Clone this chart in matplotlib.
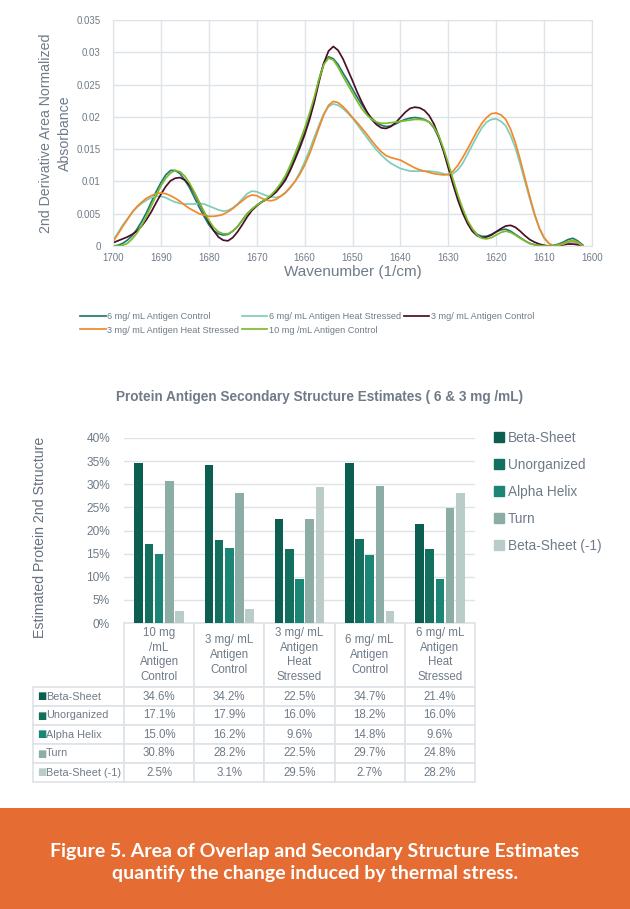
import numpy as np
import matplotlib
matplotlib.use("Agg")
import matplotlib.pyplot as plt
from matplotlib.patches import Rectangle, Patch
from matplotlib.table import Table

plt.rcParams['font.family'] = ['Liberation Sans', 'DejaVu Sans']

# ---- spectra data (2nd derivative, area normalized), 1700 -> 1602 cm-1 ----
wavenumber = np.arange(1700, 1601, -1)

ctrl_6 = [0.0000, 0.0001, 0.0004, 0.0009, 0.0016, 0.0026, 0.0038, 0.0052, 0.0068, 0.0084,
          0.0098, 0.0110, 0.0117, 0.0117, 0.0112, 0.0102, 0.0090, 0.0075, 0.0060, 0.0046,
          0.0033, 0.0024, 0.0019, 0.0017, 0.0018, 0.0023, 0.0030, 0.0040, 0.0050, 0.0057,
          0.0063, 0.0068, 0.0072, 0.0078, 0.0085, 0.0094, 0.0105, 0.0120, 0.0138, 0.0156,
          0.0176, 0.0200, 0.0226, 0.0258, 0.0283, 0.0293, 0.0290, 0.0281, 0.0268, 0.0256,
          0.0243, 0.0230, 0.0218, 0.0207, 0.0198, 0.0191, 0.0187, 0.0185, 0.0186, 0.0189,
          0.0193, 0.0196, 0.0198, 0.0199, 0.0198, 0.0196, 0.0192, 0.0183, 0.0168, 0.0148,
          0.0124, 0.0099, 0.0075, 0.0055, 0.0038, 0.0026, 0.0018, 0.0015, 0.0015, 0.0018,
          0.0022, 0.0025, 0.0026, 0.0023, 0.0018, 0.0013, 0.0008, 0.0004, 0.0002, 0.0001,
          0.0000, 0.0000, 0.0001, 0.0003, 0.0006, 0.0010, 0.0012, 0.0008, 0.0002]
hs_6 = [0.0008, 0.0020, 0.0032, 0.0042, 0.0052, 0.0060, 0.0066, 0.0071, 0.0075, 0.0077,
        0.0077, 0.0075, 0.0071, 0.0068, 0.0066, 0.0065, 0.0065, 0.0065, 0.0066, 0.0065,
        0.0062, 0.0059, 0.0056, 0.0054, 0.0055, 0.0059, 0.0065, 0.0073, 0.0081, 0.0085,
        0.0084, 0.0081, 0.0078, 0.0076, 0.0075, 0.0077, 0.0082, 0.0090, 0.0100, 0.0114,
        0.0130, 0.0148, 0.0168, 0.0187, 0.0205, 0.0216, 0.0220, 0.0218, 0.0213, 0.0206,
        0.0198, 0.0188, 0.0178, 0.0168, 0.0158, 0.0149, 0.0141, 0.0134, 0.0128, 0.0124,
        0.0120, 0.0118, 0.0116, 0.0116, 0.0116, 0.0116, 0.0116, 0.0115, 0.0114, 0.0112,
        0.0110, 0.0112, 0.0118, 0.0128, 0.0142, 0.0156, 0.0170, 0.0183, 0.0192, 0.0196,
        0.0197, 0.0193, 0.0186, 0.0171, 0.0152, 0.0127, 0.0100, 0.0073, 0.0048, 0.0027,
        0.0012, 0.0004, 0.0000, 0.0000, 0.0002, 0.0004, 0.0006, 0.0004, 0.0000]
ctrl_3 = [0.0005, 0.0008, 0.0011, 0.0014, 0.0018, 0.0023, 0.0031, 0.0041, 0.0053, 0.0067,
          0.0080, 0.0092, 0.0101, 0.0105, 0.0106, 0.0102, 0.0094, 0.0082, 0.0067, 0.0052,
          0.0037, 0.0024, 0.0014, 0.0009, 0.0008, 0.0013, 0.0022, 0.0033, 0.0045, 0.0055,
          0.0062, 0.0068, 0.0072, 0.0077, 0.0083, 0.0092, 0.0102, 0.0117, 0.0134, 0.0152,
          0.0172, 0.0195, 0.0222, 0.0254, 0.0283, 0.0302, 0.0309, 0.0303, 0.0290, 0.0273,
          0.0256, 0.0238, 0.0222, 0.0208, 0.0196, 0.0188, 0.0183, 0.0182, 0.0185, 0.0191,
          0.0199, 0.0207, 0.0213, 0.0215, 0.0214, 0.0210, 0.0202, 0.0189, 0.0170, 0.0147,
          0.0121, 0.0095, 0.0071, 0.0051, 0.0035, 0.0023, 0.0016, 0.0013, 0.0014, 0.0017,
          0.0022, 0.0027, 0.0031, 0.0032, 0.0029, 0.0023, 0.0016, 0.0010, 0.0006, 0.0003,
          0.0001, 0.0000, 0.0000, 0.0001, 0.0002, 0.0003, 0.0003, 0.0002, 0.0001]
hs_3 = [0.0007, 0.0018, 0.0030, 0.0041, 0.0052, 0.0061, 0.0068, 0.0074, 0.0078, 0.0081,
        0.0082, 0.0081, 0.0078, 0.0074, 0.0069, 0.0063, 0.0058, 0.0054, 0.0050, 0.0048,
        0.0046, 0.0046, 0.0047, 0.0049, 0.0053, 0.0058, 0.0064, 0.0070, 0.0076, 0.0079,
        0.0078, 0.0074, 0.0071, 0.0070, 0.0072, 0.0077, 0.0083, 0.0091, 0.0100, 0.0111,
        0.0125, 0.0142, 0.0162, 0.0183, 0.0203, 0.0218, 0.0224, 0.0222, 0.0216, 0.0208,
        0.0199, 0.0191, 0.0182, 0.0173, 0.0163, 0.0154, 0.0146, 0.0140, 0.0137, 0.0135,
        0.0133, 0.0129, 0.0125, 0.0121, 0.0118, 0.0116, 0.0114, 0.0112, 0.0111, 0.0110,
        0.0111, 0.0116, 0.0125, 0.0137, 0.0150, 0.0164, 0.0178, 0.0190, 0.0199, 0.0205,
        0.0206, 0.0203, 0.0196, 0.0181, 0.0160, 0.0134, 0.0105, 0.0077, 0.0050, 0.0028,
        0.0013, 0.0004, 0.0000, 0.0001, 0.0003, 0.0006, 0.0008, 0.0005, 0.0000]
ctrl_10 = [0.0000, 0.0000, 0.0001, 0.0004, 0.0011, 0.0020, 0.0032, 0.0046, 0.0062, 0.0078,
           0.0093, 0.0105, 0.0113, 0.0117, 0.0115, 0.0108, 0.0097, 0.0083, 0.0068, 0.0053,
           0.0040, 0.0029, 0.0022, 0.0019, 0.0019, 0.0023, 0.0030, 0.0040, 0.0050, 0.0057,
           0.0063, 0.0068, 0.0073, 0.0079, 0.0087, 0.0097, 0.0109, 0.0125, 0.0143, 0.0162,
           0.0182, 0.0205, 0.0230, 0.0258, 0.0281, 0.0291, 0.0288, 0.0277, 0.0263, 0.0250,
           0.0237, 0.0224, 0.0212, 0.0203, 0.0196, 0.0192, 0.0190, 0.0190, 0.0191, 0.0192,
           0.0193, 0.0194, 0.0195, 0.0196, 0.0196, 0.0195, 0.0192, 0.0184, 0.0171, 0.0151,
           0.0128, 0.0103, 0.0079, 0.0058, 0.0040, 0.0027, 0.0017, 0.0012, 0.0011, 0.0013,
           0.0017, 0.0021, 0.0023, 0.0021, 0.0017, 0.0012, 0.0008, 0.0004, 0.0002, 0.0001,
           0.0000, 0.0000, 0.0000, 0.0002, 0.0004, 0.0007, 0.0009, 0.0006, 0.0001]

series_names = ["6 mg/ mL Antigen Control", "6 mg/ mL Antigen Heat Stressed",
                "3 mg/ mL Antigen Control", "3 mg/ mL Antigen Heat Stressed",
                "10 mg /mL Antigen Control"]
series_colors = ["#1F7A70", "#7FCDB9", "#4B0F27", "#F0892B", "#7DBB2C"]

# ---- secondary structure data ----
samples = ["10 mg\n/mL\nAntigen\nControl", "3 mg/ mL\nAntigen\nControl",
           "3 mg/ mL\nAntigen\nHeat\nStressed", "6 mg/ mL\nAntigen\nControl",
           "6 mg/ mL\nAntigen\nHeat\nStressed"]
structures = ["Beta-Sheet", "Unorganized", "Alpha Helix", "Turn", "Beta-Sheet (-1)"]
beta_sheet = [34.6, 34.2, 22.5, 34.7, 21.4]
unorganized = [17.1, 17.9, 16.0, 18.2, 16.0]
alpha_helix = [15.0, 16.2, 9.6, 14.8, 9.6]
turn = [30.8, 28.2, 22.5, 29.7, 24.8]
beta_sheet_m1 = [2.5, 3.1, 29.5, 2.7, 28.2]
struct_colors = ["#0C5E51", "#13705F", "#1B8676", "#8CADA6", "#B9CCC7"]

TXT = "#6F7B88"
GRID = "#DEE3E8"

W, H = 630, 909
fig = plt.figure(figsize=(W / 100, H / 100), dpi=100)

# ================= spectra =================
ax1 = fig.add_axes([113 / W, 1 - 246 / H, 479 / W, 226 / H])
for vals, name, col in zip([ctrl_6, hs_6, ctrl_3, hs_3, ctrl_10], series_names, series_colors):
    ax1.plot(wavenumber, vals, color=col, lw=1.25, label=name)
ax1.set_xlim(1700, 1600)
ax1.set_ylim(0, 0.035)
ax1.set_xticks(np.arange(1700, 1599, -10))
ax1.set_yticks(np.arange(0, 0.0351, 0.005))
ax1.set_yticklabels(["0", "0.005", "0.01", "0.015", "0.02", "0.025", "0.03", "0.035"])
ax1.grid(True, color=GRID, lw=1)
ax1.set_axisbelow(True)
for s in ax1.spines.values():
    s.set_color(GRID)
ax1.tick_params(length=0, colors=TXT, labelsize=7)
ax1.tick_params(axis='y', pad=9)
ax1.tick_params(axis='x', pad=5)
ax1.set_xlabel("Wavenumber (1/cm)", color=TXT, fontsize=11)
ax1.xaxis.set_label_coords(0.5, -0.085)
ax1.set_ylabel("2nd Derivative Area Normalized\nAbsorbance", color=TXT, fontsize=10.2,
               linespacing=1.4)
ax1.yaxis.set_label_coords(-0.086, 0.5)

h, l = ax1.get_legend_handles_labels()
order = [0, 3, 1, 4, 2]
fig.legend([h[i] for i in order], [l[i] for i in order], ncol=3, loc='upper left',
           bbox_to_anchor=(80 / W, 1 - 312 / H), frameon=False, fontsize=6.6,
           handlelength=2.8, handletextpad=0.15, columnspacing=0.3, labelspacing=0.5,
           borderpad=0, borderaxespad=0, labelcolor=TXT)

# ================= bars =================
ax2 = fig.add_axes([124 / W, 1 - 623 / H, 351 / W, 185 / H])
x = np.arange(len(samples))
pitch, bw = 0.145, 0.122
for k, (vals, col) in enumerate(zip([beta_sheet, unorganized, alpha_helix, turn, beta_sheet_m1],
                                     struct_colors)):
    ax2.bar(x + (k - 2) * pitch, vals, width=bw, color=col, label=structures[k], zorder=3)
ax2.set_xlim(-0.5, 4.5)
ax2.set_ylim(0, 40)
ax2.set_yticks(np.arange(0, 41, 5))
ax2.set_yticklabels([f"{v}%" for v in range(0, 41, 5)])
ax2.set_xticks([])
ax2.grid(True, axis='y', color=GRID, lw=1)
for s in ax2.spines.values():
    s.set_visible(False)
ax2.tick_params(length=0, colors=TXT, labelsize=8.6, pad=10)

fig.text(320 / W, 1 - 397 / H, "Protein Antigen Secondary Structure Estimates ( 6 & 3 mg /mL)",
         ha='center', va='center', fontsize=9.8, fontweight='bold', color=TXT)
fig.text(40 / W, 1 - 537 / H, "Estimated Protein 2nd Structure", rotation=90,
         ha='center', va='center', fontsize=10.2, color="#65717E")

fig.legend([Patch(color=c) for c in struct_colors], structures, loc='upper left',
           bbox_to_anchor=(494 / W, 1 - 431 / H), frameon=False, fontsize=9.8,
           handlelength=0.7, handleheight=0.7, handletextpad=0.3, labelspacing=0.95,
           borderpad=0, borderaxespad=0, labelcolor=TXT)

# ---- data table under bars (column 0 holds the row names) ----
cell_text = [[f"{v:.1f}%" for v in row] for row in
             [beta_sheet, unorganized, alpha_helix, turn, beta_sheet_m1]]
tab_left, tab_right, head_h, row_h = 32.5, 475, 64, 19
lab_w = 124 - tab_left
col_w = (tab_right - 124) / len(samples)
tab_h = head_h + row_h * len(structures)
tbl = Table(ax2, bbox=[(tab_left - 124) / 351, -tab_h / 185,
                       (tab_right - tab_left) / 351, tab_h / 185])
for c in range(len(samples) + 1):
    for r in range(len(structures) + 1):
        w_ = lab_w if c == 0 else col_w
        h_ = head_h if r == 0 else row_h
        if r == 0 and c == 0:
            txt, loc = "", "center"
        elif r == 0:
            txt, loc = samples[c - 1], "center"
        elif c == 0:
            txt, loc = structures[r - 1], "left"
        else:
            txt, loc = cell_text[r - 1][c - 1], "center"
        cell = tbl.add_cell(r, c, w_ / 351, h_ / 185, text=txt, loc=loc,
                            edgecolor=GRID, facecolor='white')
        cell.set_linewidth(1.2)
        cell.get_text().set_color(TXT)
        cell.get_text().set_fontsize(8.3)
        if r == 0:
            cell.get_text().set_linespacing(1.3)
        if c == 0:
            cell.PAD = 0.145
            cell.get_text().set_fontsize(7.8)
        if r == 0 and c == 0:
            cell.visible_edges = ''
tbl.auto_set_font_size(False)
ax2.add_table(tbl)
for i, col in enumerate(struct_colors):
    yc = -(head_h + row_h * i + row_h / 2) / 185
    ax2.text((tab_left + 5 - 124) / 351, yc, "\u25A0", color=col, fontsize=7,
             ha='left', va='center', family='DejaVu Sans', transform=ax2.transAxes)

# ================= caption banner =================
fig.patches.append(Rectangle((0, 0), 1, 101 / H, transform=fig.transFigure,
                             facecolor="#E56D33", edgecolor='none', zorder=0))
fig.text(0.5, 1 - 851 / H, "Figure 5. Area of Overlap and Secondary Structure Estimates",
         ha='center', va='center', fontsize=14, fontweight='bold', color='white', family='Lato')
fig.text(0.5, 1 - 874 / H, "quantify the change induced by thermal stress.",
         ha='center', va='center', fontsize=14, fontweight='bold', color='white', family='Lato')

fig.savefig("out.png", dpi=100)
